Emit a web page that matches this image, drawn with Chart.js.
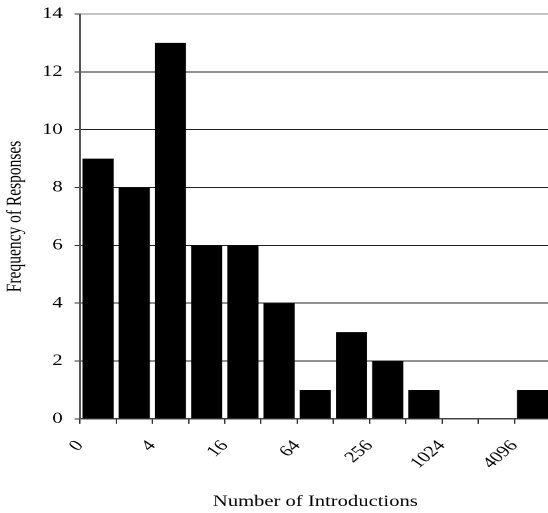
<!DOCTYPE html>
<html>
<head>
<meta charset="utf-8">
<script src="https://cdn.jsdelivr.net/npm/chart.js@4/dist/chart.umd.min.js"></script>
<style>
  html, body { margin: 0; padding: 0; background: #fff; overflow: hidden; width: 548px; height: 513px; }
  /* the original figure is stretched sideways, so draw narrow and widen */
  #wrap { width: 414px; height: 513px; transform: scaleX(1.33); transform-origin: 0 0; }
</style>
</head>
<body>
<div id="wrap"><canvas id="chart"></canvas></div>
<script>
// bins of "number of introductions", labelled every second boundary
const tickLabels = ['0', '4', '16', '64', '256', '1024', '4096'];
const frequencies = [9, 8, 13, 6, 6, 4, 1, 3, 2, 1, 0, 0, 1];
const yTicks = [0, 2, 4, 6, 8, 10, 12, 14];

const serif = { family: "'Liberation Serif', 'Times New Roman', serif", size: 15.5 };

const ctx = document.getElementById('chart').getContext('2d');
new Chart(ctx, {
    type: 'bar',
    data: {
        datasets: [{
            data: frequencies.map((v, i) => ({ x: i + 0.5, y: v })),
            backgroundColor: '#000',
            borderWidth: 0,
            barPercentage: 0.86,
            categoryPercentage: 1
        }]
    },
    options: {
        responsive: true,
        maintainAspectRatio: false,
        animation: false,
        devicePixelRatio: 2,
        layout: { padding: { top: 2, left: 2, right: 0, bottom: 2 } },
        plugins: { legend: { display: false }, tooltip: { enabled: false } },
        scales: {
            x: {
                type: 'linear',
                offset: false,
                min: 0,
                max: frequencies.length,
                // let the plot run right up to the edge like the original
                afterFit: axis => { axis.paddingLeft = 0; axis.paddingRight = 0; },
                grid: { drawOnChartArea: false, offset: false, tickLength: 5, color: '#333' },
                border: { color: '#444', width: 1.5 },
                ticks: {
                    stepSize: 1,
                    autoSkip: false,
                    minRotation: 48,
                    maxRotation: 48,
                    padding: 13,
                    color: '#000',
                    font: serif,
                    callback: v => (v % 2 === 0 && tickLabels[v / 2]) ? tickLabels[v / 2] : ''
                },
                title: {
                    display: true,
                    text: 'Number of Introductions',
                    color: '#000',
                    font: serif,
                    padding: { top: 7, bottom: 0 }
                }
            },
            y: {
                min: 0,
                max: 14,
                afterBuildTicks: axis => { axis.ticks = yTicks.map(v => ({ value: v })); },
                afterFit: axis => { axis.paddingTop = 14; },
                grid: {
                    tickLength: 4,
                    color: c => c.tick && c.tick.value === 14 ? '#888' : '#222',
                    tickColor: '#333'
                },
                border: { color: '#555', width: 1.5 },
                ticks: { padding: 9, color: '#000', font: serif },
                title: {
                    display: true,
                    text: 'Frequency of Responses',
                    color: '#000',
                    font: serif,
                    padding: { top: 0, bottom: 2 }
                }
            }
        }
    }
});
</script>
</body>
</html>
